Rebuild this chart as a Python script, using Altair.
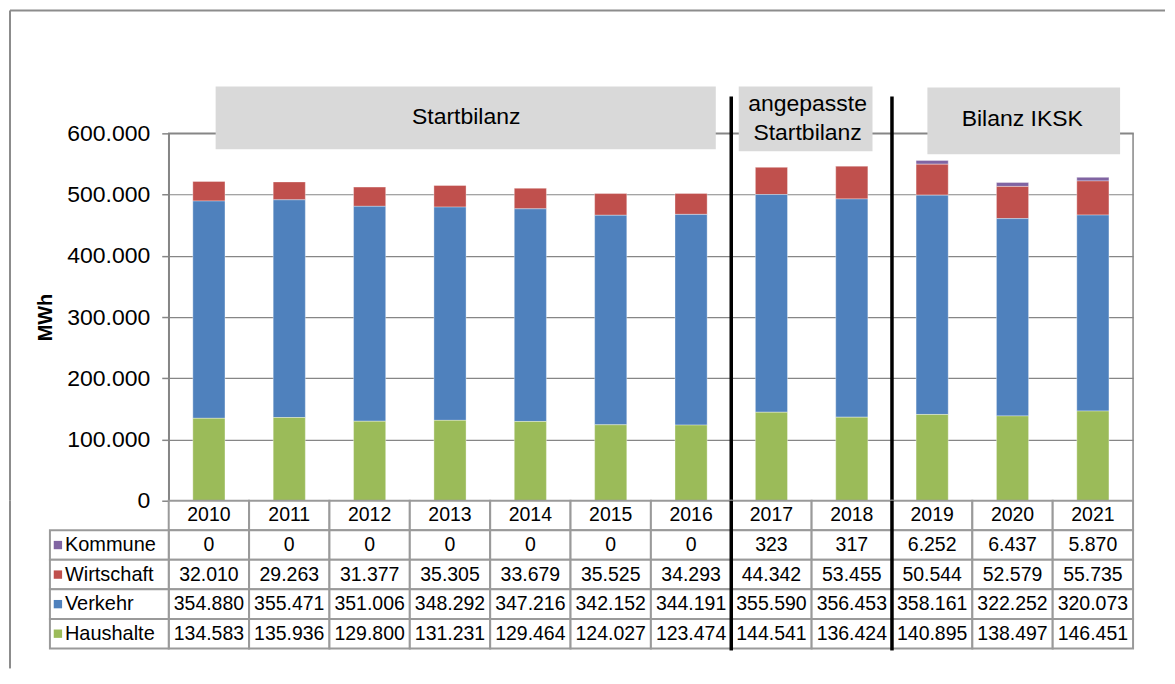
import altair as alt
import pandas as pd

years = ["2010", "2011", "2012", "2013", "2014", "2015", "2016", "2017", "2018", "2019", "2020", "2021"]
kommune = [0, 0, 0, 0, 0, 0, 0, 323, 317, 6252, 6437, 5870]
wirtschaft = [32010, 29263, 31377, 35305, 33679, 35525, 34293, 44342, 53455, 50544, 52579, 55735]
verkehr = [354880, 355471, 351006, 348292, 347216, 342152, 344191, 355590, 356453, 358161, 322252, 320073]
haushalte = [134583, 135936, 129800, 131231, 129464, 124027, 123474, 144541, 136424, 140895, 138497, 146451]

sectors = ["Kommune", "Wirtschaft", "Verkehr", "Haushalte"]
colors = ["#8064A2", "#C0504D", "#4F81BD", "#9BBB59"]
series = {"Kommune": kommune, "Wirtschaft": wirtschaft, "Verkehr": verkehr, "Haushalte": haushalte}
stack_order = {"Haushalte": 0, "Verkehr": 1, "Wirtschaft": 2, "Kommune": 3}

group_starts = ["2017", "2019"]
y_ticks = [0, 100000, 200000, 300000, 400000, 500000, 600000]

FONT = "Liberation Sans"
GRID = "#868686"
CELL = "#9a9a9a"
W, H, TH = 966, 368, 148


def de(v):
    return f"{v:,}".replace(",", ".")


rows = []
for s in sectors:
    for y, v in zip(years, series[s]):
        rows.append({"year": y, "sector": s, "value": v, "order": stack_order[s], "label": de(v)})
df = pd.DataFrame(rows)

xscale = alt.Scale(domain=years, padding=0)
color_scale = alt.Scale(domain=sectors, range=colors)

bars = alt.Chart(df).mark_bar(
    width=alt.RelativeBandSize(0.4), stroke="white", strokeOpacity=0.35, strokeWidth=1
).encode(
    x=alt.X("year:O", scale=xscale, axis=None),
    y=alt.Y(
        "value:Q",
        stack="zero",
        scale=alt.Scale(domain=[0, 600000], nice=False, zero=True),
        axis=alt.Axis(
            values=y_ticks, format=",.0f", labelExpr="replace(datum.label, ',', '.')",
            labelFont=FONT, labelFontSize=23, labelColor="black", labelPadding=12,
            tickColor=GRID, tickSize=7, tickWidth=1.5,
            domainColor=GRID, domainWidth=1.5,
            grid=True, gridColor=GRID, gridWidth=1.2,
            title="MWh", titleFont=FONT, titleFontSize=20, titleFontWeight="bold",
            titleColor="black", titleAngle=270, titleAlign="center", titleBaseline="middle",
            titleX=-123, titleY=H / 2,
        ),
    ),
    color=alt.Color("sector:N", scale=color_scale, legend=None),
    order=alt.Order("order:Q"),
)

one = pd.DataFrame({"k": [0]})


def box(x0, x1, y0, y1):
    return alt.Chart(one).mark_rect(color="#D9D9D9").encode(
        x=alt.value(x0), x2=alt.value(x1), y=alt.value(y0), y2=alt.value(y1)
    )


def label(txt, x, y, size=23):
    return alt.Chart(one).mark_text(
        text=txt, font=FONT, fontSize=size, color="black", align="center", baseline="middle",
        lineBreak="\n", lineHeight=29
    ).encode(x=alt.value(x), y=alt.value(y))


boxes = [
    box(47, 548, -47, 16), label("Startbilanz", 298, -16),
    box(571, 705, -47, 18), label("angepasste\nStartbilanz", 640, -29),
    box(760, 953, -46, 21), label("Bilanz IKSK", 855, -14),
]

sep_df = pd.DataFrame({"year": group_starts})
sep_top = alt.Chart(sep_df).mark_rule(color="black", strokeWidth=3.5).encode(
    x=alt.X("year:O", scale=xscale, bandPosition=0, axis=None),
    y=alt.value(-37), y2=alt.value(H),
)

frame_top = alt.Chart(one).mark_rule(color="#8c8c8c", strokeWidth=2).encode(
    x=alt.value(-159), x2=alt.value(998), y=alt.value(-123)
)
frame_left = alt.Chart(one).mark_rule(color="#8c8c8c", strokeWidth=2).encode(
    x=alt.value(-159), y=alt.value(-123), y2=alt.value(H)
)

top = alt.layer(bars, *boxes, sep_top, frame_top, frame_left).properties(
    width=W, height=H, view=alt.ViewBackground(stroke=GRID, strokeWidth=1.5)
)

# ---------- table ----------
row_names = ["Jahr"] + sectors
yscale = alt.Scale(domain=row_names, padding=0)

hdr = pd.DataFrame({"year": years, "row": "Jahr", "label": years})
cells_df = pd.concat([hdr, df[["year", "sector", "label"]].rename(columns={"sector": "row"})])

cells = alt.Chart(cells_df).mark_rect(fill="white", stroke=CELL, strokeWidth=2).encode(
    x=alt.X("year:O", scale=xscale, axis=None),
    y=alt.Y("row:N", scale=yscale, axis=None),
)
cell_text = alt.Chart(cells_df).mark_text(font=FONT, fontSize=19.5, color="black", baseline="middle").encode(
    x=alt.X("year:O", scale=xscale, axis=None),
    y=alt.Y("row:N", scale=yscale, axis=None),
    text="label:N",
)

leg_df = pd.DataFrame({"row": sectors})
leg_cells = alt.Chart(leg_df).mark_rect(fill="white", stroke=CELL, strokeWidth=2).encode(
    x=alt.value(-119), x2=alt.value(0),
    y=alt.Y("row:N", scale=yscale, axis=None),
)
leg_sq = alt.Chart(leg_df).mark_square(size=70, opacity=1).encode(
    x=alt.value(-111),
    y=alt.Y("row:N", scale=yscale, axis=None),
    color=alt.Color("row:N", scale=color_scale, legend=None),
)
leg_txt = alt.Chart(leg_df).mark_text(font=FONT, fontSize=20, color="black", align="left", baseline="middle").encode(
    x=alt.value(-104),
    y=alt.Y("row:N", scale=yscale, axis=None),
    text="row:N",
)

sep_bot = alt.Chart(sep_df).mark_rule(color="black", strokeWidth=3.5).encode(
    x=alt.X("year:O", scale=xscale, bandPosition=0, axis=None),
    y=alt.value(0), y2=alt.value(TH + 2),
)
frame_left2 = alt.Chart(one).mark_rule(color="#8c8c8c", strokeWidth=2).encode(
    x=alt.value(-159), y=alt.value(0), y2=alt.value(168)
)

bottom = alt.layer(cells, cell_text, leg_cells, leg_sq, leg_txt, sep_bot, frame_left2).properties(
    width=W, height=TH, view=alt.ViewBackground(stroke=None)
)

chart = alt.vconcat(top, bottom, spacing=0, bounds="flush").resolve_scale(
    color="shared"
).configure(padding=0, background="white").configure_view(stroke=None)

chart.save("out.html", embed_options={"renderer": "svg", "actions": False})
